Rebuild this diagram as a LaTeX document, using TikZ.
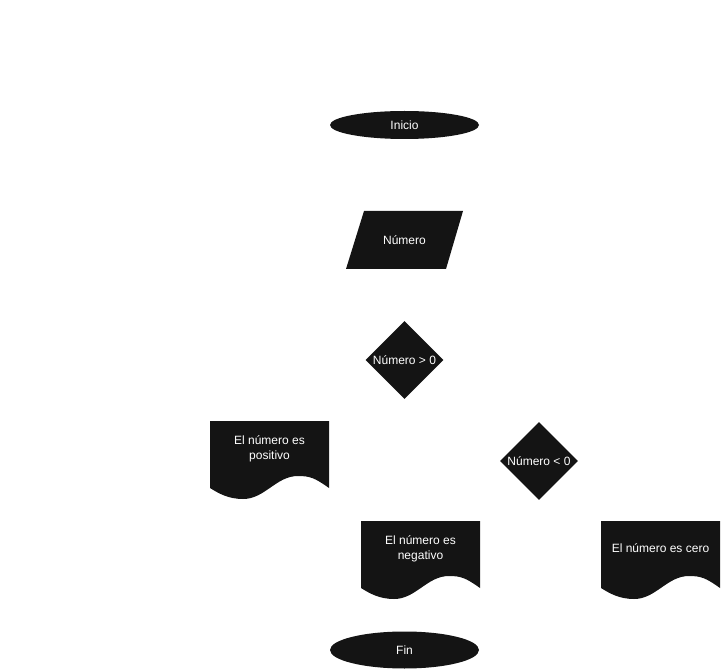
\documentclass[tikz,border=0pt]{standalone}
\usepackage{fontspec}
\setmainfont{Liberation Sans}
\usetikzlibrary{shapes.geometric}
\definecolor{shapefill}{HTML}{141414}

\begin{document}
\begin{tikzpicture}[x=1pt,y=-1pt]
\useasboundingbox (0,0) rectangle (721,671);
% document shapes (wavy bottom)
\foreach \x/\y in {210/421, 361/521, 601/521}
    \fill[shapefill, shift={(\x,\y)}] (0,0) -- (119,0) -- (119,67)
        .. controls (105,57) and (100,55) .. (88,55)
        .. controls (66,55) and (55,78) .. (33,78)
        .. controls (18,78) and (8,72) .. (0,67) -- cycle;
% input shape
\fill[shapefill] (364,211) -- (463,211) -- (446,269) -- (346,269) -- cycle;
\begin{scope}[every node/.style={text=white,font=\fontsize{12}{15}\selectfont,align=center}]
    \node[ellipse,fill=shapefill,minimum width=149pt,minimum height=28pt,inner sep=0pt] (inicio) at (404.5,125) {Inicio};
    \node (numero) at (404.5,240) {Número};
    \node[diamond,fill=shapefill,minimum width=78pt,minimum height=78pt,inner sep=0pt] (mayor) at (404.5,360) {Número > 0};
    \node[diamond,fill=shapefill,minimum width=78pt,minimum height=78pt,inner sep=0pt] (menor) at (539,461) {Número < 0};
    \node (positivo) at (269.5,449) {El número es\\positivo};
    \node (negativo) at (420.5,549) {El número es\\negativo};
    \node (cero) at (660.5,548) {El número es cero};
    \node[ellipse,fill=shapefill,minimum width=149pt,minimum height=37pt,inner sep=0pt] (fin) at (404.5,650) {Fin};
\end{scope}
\end{tikzpicture}
\end{document}
